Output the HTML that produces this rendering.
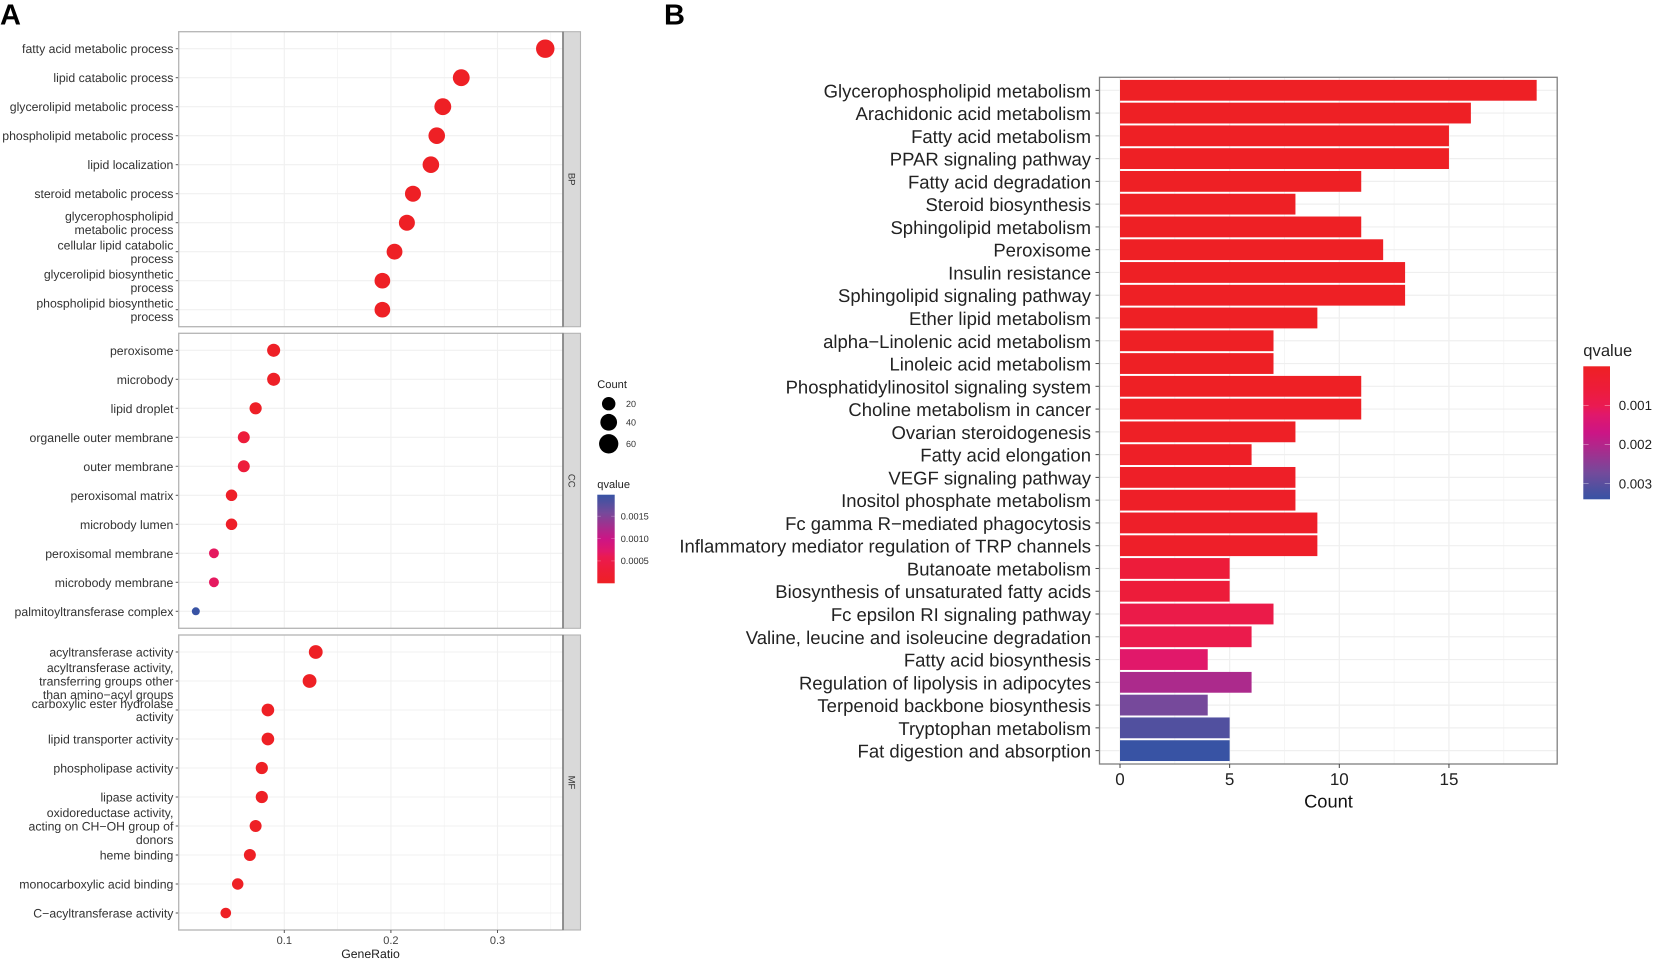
<!DOCTYPE html>
<html lang="en">
<head>
<meta charset="utf-8">
<title>GO and KEGG enrichment</title>
<style>
html,body{margin:0;padding:0;background:#fff;width:1654px;height:960px;overflow:hidden}
svg{display:block;font-family:"Liberation Sans",sans-serif;filter:blur(.35px);text-rendering:geometricPrecision}
</style>
</head>
<body>
<svg id="fig" xmlns="http://www.w3.org/2000/svg" width="1654" height="960" viewBox="0 0 1654 960">
<rect width="1654" height="960" fill="#fff"/>
<text x="0" y="24.5" font-size="29" font-weight="bold" fill="#000">A</text>
<text x="664" y="24.5" font-size="29" font-weight="bold" fill="#000">B</text>
<g id="panelA"></g>
<g id="legendA"></g>
<g id="panelB"></g>
<g id="legendB"></g>
</svg>
<script>
/* ---------- Panel A data ---------- */
var bpTerms = ["fatty acid metabolic process","lipid catabolic process","glycerolipid metabolic process","phospholipid metabolic process","lipid localization","steroid metabolic process","glycerophospholipid|metabolic process","cellular lipid catabolic|process","glycerolipid biosynthetic|process","phospholipid biosynthetic|process"];
var bpRatio = [0.3448,0.266,0.2487,0.243,0.2375,0.2207,0.215,0.2034,0.192,0.192];
var bpCount = [53,41,41,39,39,35,35,34,33,33];
var bpQvalue = [0.00002,0.00002,0.00002,0.00002,0.00002,0.00002,0.00002,0.00002,0.00002,0.00002];

var ccTerms = ["peroxisome","microbody","lipid droplet","organelle outer membrane","outer membrane","peroxisomal matrix","microbody lumen","peroxisomal membrane","microbody membrane","palmitoyltransferase complex"];
var ccRatio = [0.09,0.09,0.0731,0.062,0.062,0.0505,0.0505,0.034,0.034,0.017];
var ccCount = [18,18,14,13,13,11,11,6,6,3];
var ccQvalue = [0.00004,0.00004,0.00004,0.00034,0.00034,0.00006,0.00006,0.00066,0.00066,0.00198];

var mfTerms = ["acyltransferase activity","acyltransferase activity,|transferring groups other|than amino\u2212acyl groups","carboxylic ester hydrolase|activity","lipid transporter activity","phospholipase activity","lipase activity","oxidoreductase activity,|acting on CH\u2212OH group of|donors","heme binding","monocarboxylic acid binding","C\u2212acyltransferase activity"];
var mfRatio = [0.1295,0.1237,0.0846,0.0846,0.0789,0.0789,0.0731,0.0677,0.0563,0.0451];
var mfCount = [22,22,16,16,14,14,13,13,11,8];
var mfQvalue = [0.00002,0.00002,0.00002,0.00002,0.00002,0.00002,0.00002,0.00002,0.00002,0.00002];

var facetLabels = ["BP","CC","MF"];
var ratioTicks = [0.1,0.2,0.3];
var ratioMinorTicks = [0.05,0.15,0.25,0.35];
var countLegendValues = [20,40,60];
var qLegendA = [0.0005,0.001,0.0015];
var qLegendALabels = ["0.0005","0.0010","0.0015"];

/* ---------- Panel B data ---------- */
var pathways = ["Glycerophospholipid metabolism","Arachidonic acid metabolism","Fatty acid metabolism","PPAR signaling pathway","Fatty acid degradation","Steroid biosynthesis","Sphingolipid metabolism","Peroxisome","Insulin resistance","Sphingolipid signaling pathway","Ether lipid metabolism","alpha\u2212Linolenic acid metabolism","Linoleic acid metabolism","Phosphatidylinositol signaling system","Choline metabolism in cancer","Ovarian steroidogenesis","Fatty acid elongation","VEGF signaling pathway","Inositol phosphate metabolism","Fc gamma R\u2212mediated phagocytosis","Inflammatory mediator regulation of TRP channels","Butanoate metabolism","Biosynthesis of unsaturated fatty acids","Fc epsilon RI signaling pathway","Valine, leucine and isoleucine degradation","Fatty acid biosynthesis","Regulation of lipolysis in adipocytes","Terpenoid backbone biosynthesis","Tryptophan metabolism","Fat digestion and absorption"];
var pathwayCounts = [19,16,15,15,11,8,11,12,13,13,9,7,7,11,11,8,6,8,8,9,9,5,5,7,6,4,6,4,5,5];
var pathwayQvalues = [0.00002,0.00002,0.00002,0.00002,0.00002,0.00002,0.00002,0.00002,0.00002,0.00002,0.00002,0.00002,0.00002,0.00003,0.00003,0.00005,0.00008,0.0001,0.0001,0.00012,0.00012,0.00055,0.00055,0.00085,0.0009,0.00122,0.0021,0.0027,0.0031,0.0034];
var countTicks = [0,5,10,15];
var countMinorTicks = [2.5,7.5,12.5,17.5];
var qLegendB = [0.001,0.002,0.003];
var qLegendBLabels = ["0.001","0.002","0.003"];

/* ---------- scales ---------- */
var SVGNS = "http://www.w3.org/2000/svg";
var gradT = [0,.18,.3,.36,.5,.62,.8,.91,1];
var gradC = ["#ee2024","#ed1c3c","#ea1a52","#e1186a","#cc1585","#ab2a8c","#744a9b","#51509f","#3853a4"];
function hexRgb(h){return [parseInt(h.substr(1,2),16),parseInt(h.substr(3,2),16),parseInt(h.substr(5,2),16)];}
function ramp(t){
  t=Math.max(0,Math.min(1,t));
  for(var i=1;i<gradT.length;i++){
    if(t<=gradT[i]){
      var f=(t-gradT[i-1])/(gradT[i]-gradT[i-1]),a=hexRgb(gradC[i-1]),b=hexRgb(gradC[i]);
      return "rgb("+Math.round(a[0]+(b[0]-a[0])*f)+","+Math.round(a[1]+(b[1]-a[1])*f)+","+Math.round(a[2]+(b[2]-a[2])*f)+")";
    }
  }
  return gradC[gradC.length-1];
}
function el(parent,tag,attrs,txt){
  var e=document.createElementNS(SVGNS,tag);
  for(var k in attrs){e.setAttribute(k,attrs[k]);}
  if(txt!==undefined){e.textContent=txt;}
  parent.appendChild(e);
  return e;
}
function gx(v){return 284.3+(v-0.1)*1066;}
function dotD(c){return 8+11.3*Math.pow(Math.max(0,(c-3))/57,0.6);}
function colorA(q){return ramp(q/0.00198);}
function colorB(q){return ramp(q/0.0034);}
function bx(v){return 1120+v*21.93;}
function by(i){return 90.3+i*22.77;}

/* ---------- Panel A ---------- */
var pA=document.getElementById("panelA");
var facets=[
 {top:31.7,bottom:326.7,terms:bpTerms,ratio:bpRatio,count:bpCount,q:bpQvalue},
 {top:333.3,bottom:628.3,terms:ccTerms,ratio:ccRatio,count:ccCount,q:ccQvalue},
 {top:635,bottom:930,terms:mfTerms,ratio:mfRatio,count:mfCount,q:mfQvalue}
];
var pL=178.7,pR=563,sR=580.5;
facets.forEach(function(f,fi){
  ratioMinorTicks.forEach(function(v){
    var g=el(pA,"line",{x1:gx(v),x2:gx(v),y1:f.top,y2:f.bottom,stroke:"#f3f3f3","stroke-width":0.7});
    
    
  });
  ratioTicks.forEach(function(v){
    var g=el(pA,"line",{x1:gx(v),x2:gx(v),y1:f.top,y2:f.bottom,stroke:"#f0f0f0","stroke-width":1.1});
    
    
  });
  f.terms.forEach(function(t,i){
    var y=f.top+17+i*29;
    var h=el(pA,"line",{x1:pL,x2:pR,y1:y,y2:y,stroke:"#f0f0f0","stroke-width":1.1});
    
    
    var tk=el(pA,"line",{x1:pL-3,x2:pL,y1:y,y2:y,stroke:"#555","stroke-width":1});
    
    
    var lines=t.split("|");
    var lh=13.3,y0=y-(lines.length-1)*lh/2;
    lines.forEach(function(l,li){
      var tx=el(pA,"text",{x:173.4,y:y0+li*lh+4.5,"font-size":12.28,"text-anchor":"end",fill:"#333"},l);
      
      
    });
  });
  var frame=el(pA,"rect",{x:pL,y:f.top,width:pR-pL,height:f.bottom-f.top,fill:"none",stroke:"#b4b4b4","stroke-width":1.3});
  
  
  var strip=el(pA,"rect",{x:pR,y:f.top,width:sR-pR,height:f.bottom-f.top,fill:"#d9d9d9",stroke:"#b4b4b4","stroke-width":1.1});
  
  
  var sl=el(pA,"line",{x1:pR,x2:pR,y1:f.top,y2:f.bottom,stroke:"#7d7d7d","stroke-width":1.6});
  
  
  var cy=(f.top+f.bottom)/2;
  var st=el(pA,"text",{x:571.2,y:cy,"font-size":9.5,"text-anchor":"middle","dominant-baseline":"central",fill:"#333",transform:"rotate(90 571.2 "+cy+")"},facetLabels[fi]);
  
  
  f.ratio.forEach(function(v,i){
    var c=el(pA,"circle",{cx:gx(v),cy:f.top+17+i*29,r:dotD(f.count[i])/2,fill:colorA(f.q[i])});
    
    
  });
});
ratioTicks.forEach(function(v){
  var t=el(pA,"line",{x1:gx(v),x2:gx(v),y1:930,y2:933,stroke:"#555","stroke-width":1});
  
  
  var l=el(pA,"text",{x:gx(v),y:944,"font-size":11,"text-anchor":"middle",fill:"#444"},v.toFixed(1));
  
  
});
var xtA=el(pA,"text",{x:370.5,y:958,"font-size":12.25,"text-anchor":"middle",fill:"#222"},"GeneRatio");



/* ---------- Legend A ---------- */
var lA=document.getElementById("legendA");
var lt1=el(lA,"text",{x:597.3,y:388,"font-size":11.1,fill:"#222"},"Count");


var legendY=403.7;
countLegendValues.forEach(function(v,i){
  var d=dotD(v);
  if(i>0){legendY+=(dotD(countLegendValues[i-1])+d)/2+3.5;}
  var c=el(lA,"circle",{cx:608.7,cy:legendY,r:d/2,fill:"#000"});
  
  
  var t=el(lA,"text",{x:626,y:legendY+3.2,"font-size":9,fill:"#333"},String(v));
  
  
});
var lt2=el(lA,"text",{x:597.3,y:488,"font-size":11.1,fill:"#222"},"qvalue");


var defs=el(document.getElementById("fig"),"defs",{});
function makeGrad(id,reverse){
  var g=el(defs,"linearGradient",{id:id,x1:0,y1:0,x2:0,y2:1});
  gradT.forEach(function(t,i){
    if(reverse){el(g,"stop",{offset:1-t,"stop-color":gradC[i]});}
    else{el(g,"stop",{offset:t,"stop-color":gradC[i]});}
  });
  if(reverse){
    var s=[].slice.call(g.childNodes).reverse();
    s.forEach(function(n){g.appendChild(n);});
  }
}
makeGrad("gradA",true);
makeGrad("gradB",false);
var barA=el(lA,"rect",{x:597.3,y:494.7,width:17.4,height:88.6,fill:"url(#gradA)"});


function qYA(q){return 583.3-q/0.00198*88.6;}
qLegendA.forEach(function(q,i){
  var y=qYA(q);
  var t1=el(lA,"line",{x1:597.3,x2:600.8,y1:y,y2:y,stroke:"#fff","stroke-opacity":.4,"stroke-width":.6});
  
  
  var t2=el(lA,"line",{x1:611.2,x2:614.7,y1:y,y2:y,stroke:"#fff","stroke-opacity":.4,"stroke-width":.6});
  
  
  var l=el(lA,"text",{x:620.7,y:y+3.2,"font-size":9.2,fill:"#333"},qLegendALabels[i]);
  
  
});

/* ---------- Panel B ---------- */
var pB=document.getElementById("panelB");
var bL=1099.5,bR=1557.2,bT=77.3,bB=764;
countMinorTicks.forEach(function(v){
  var g=el(pB,"line",{x1:bx(v),x2:bx(v),y1:bT,y2:bB,stroke:"#f3f3f3","stroke-width":.8});
  
  
});
countTicks.forEach(function(v){
  var g=el(pB,"line",{x1:bx(v),x2:bx(v),y1:bT,y2:bB,stroke:"#efefef","stroke-width":1.2});
  
  
});
pathways.forEach(function(p,i){
  var y=by(i);
  var h=el(pB,"line",{x1:bL,x2:bR,y1:y,y2:y,stroke:"#efefef","stroke-width":1.2});
  
  
  var b=el(pB,"rect",{x:bx(0),y:y-10.4,width:bx(pathwayCounts[i])-bx(0),height:20.8,fill:colorB(pathwayQvalues[i])});
  
  
  var tk=el(pB,"line",{x1:bL-4,x2:bL,y1:y,y2:y,stroke:"#444","stroke-width":1});
  
  
  var t=el(pB,"text",{x:1091,y:y+7,"font-size":18.5,"text-anchor":"end",fill:"#222"},p);
  
  
});
var frB=el(pB,"rect",{x:bL,y:bT,width:bR-bL,height:bB-bT,fill:"none",stroke:"#808080","stroke-width":1.3});


countTicks.forEach(function(v){
  var t=el(pB,"line",{x1:bx(v),x2:bx(v),y1:bB,y2:bB+4,stroke:"#444","stroke-width":1});
  
  
  var l=el(pB,"text",{x:bx(v),y:785,"font-size":17,"text-anchor":"middle",fill:"#222"},String(v));
  
  
});
var xtB=el(pB,"text",{x:1328.5,y:807.5,"font-size":18.3,"text-anchor":"middle",fill:"#111"},"Count");



/* ---------- Legend B ---------- */
var lB=document.getElementById("legendB");
var ltb=el(lB,"text",{x:1583.3,y:356,"font-size":16.6,fill:"#222"},"qvalue");


var barB=el(lB,"rect",{x:1583.3,y:366.3,width:26.7,height:133,fill:"url(#gradB)"});


function qYB(q){return 366.3+q/0.0034*133;}
qLegendB.forEach(function(q,i){
  var y=qYB(q);
  var t1=el(lB,"line",{x1:1583.3,x2:1588.6,y1:y,y2:y,stroke:"#fff","stroke-opacity":.5,"stroke-width":.7});
  
  
  var t2=el(lB,"line",{x1:1604.7,x2:1610,y1:y,y2:y,stroke:"#fff","stroke-opacity":.5,"stroke-width":.7});
  
  
  var l=el(lB,"text",{x:1618.7,y:y+4.7,"font-size":13.3,fill:"#222"},qLegendBLabels[i]);
  
  
});
</script>
</body>
</html>
